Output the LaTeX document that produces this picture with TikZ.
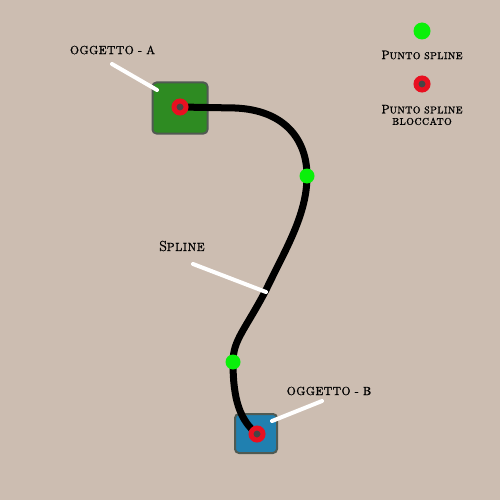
\documentclass[tikz,border=0pt]{standalone}
\usepackage{fontspec}
\newfontfamily\lbl[LetterSpace=5,FakeBold=1.6]{Latin Modern Roman}
\newcommand\bigcapA[1]{{\fontsize{14.5}{14}\selectfont #1}}
\newcommand\bigcapB[1]{{\fontsize{12.2}{12}\selectfont #1}}
\definecolor{bg}{RGB}{204,189,177}
\definecolor{objgreen}{RGB}{46,139,34}
\definecolor{objblue}{RGB}{32,128,176}
\definecolor{objborder}{RGB}{80,90,82}
\definecolor{ptred}{RGB}{232,16,32}
\definecolor{ptgreen}{RGB}{10,240,10}
\definecolor{ptdark}{RGB}{70,70,70}
\begin{document}
\begin{tikzpicture}[x=1pt,y=-1pt,
  obj/.style={draw=objborder,line width=2pt,rounded corners=4pt,inner sep=0pt},
  freept/.style={circle,fill=ptgreen,minimum size=15pt,inner sep=0pt},
  lockpt/.style={circle,fill=ptdark,draw=ptred,line width=5pt,minimum size=12pt,inner sep=0pt},
  txt/.style={font=\lbl\fontsize{11.7}{14}\selectfont,text=black,align=center,inner sep=0pt},
  legtxt/.style={font=\lbl\fontsize{9.8}{12.5}\selectfont,text=black,align=center,inner sep=0pt},
  pointer/.style={white,line width=4pt,line cap=round},
  splinepath/.style={black,line width=7pt}]
\fill[bg] (0,0) rectangle (500,500);
\useasboundingbox (0,0) rectangle (500,500);
% objects
\node[obj,fill=objgreen,minimum width=55pt,minimum height=51pt] (A) at (180,108) {};
\node[obj,fill=objblue,minimum width=42pt,minimum height=39pt] (B) at (256,433.5) {};
% spline
\coordinate (s0) at (180,107);
\coordinate (s1) at (235,108);
\coordinate (p1) at (307,176);
\coordinate (mid) at (266,290);
\coordinate (p2) at (233,362);
\coordinate (s9) at (257,434);
\draw[splinepath] (s0) -- (s1) .. controls (285,110) and (307,140) .. (p1)
  .. controls (307,215) and (285,250) .. (mid)
  .. controls (245,330) and (233,340) .. (p2)
  .. controls (233,400) and (240,420) .. (s9);
\node[lockpt] (LA) at (s0) {};
\node[lockpt] (LB) at (s9) {};
\node[freept] (F1) at (p1) {};
\node[freept] (F2) at (p2) {};
% labels
\node[txt] (tA) at (112.5,50) {OGGETTO - A};
\node[txt] (tS) at (182,246) {\bigcapA{S}PLINE};
\node[txt] (tB) at (329,391) {OGGETTO - B};
\coordinate (a1) at (112,64);
\coordinate (a2) at (157,90);
\coordinate (m1) at (193,264);
\coordinate (m2) at (266,292);
\coordinate (b1) at (322,401);
\coordinate (b2) at (272,421);
\draw[pointer] (a1) -- (a2);
\draw[pointer] (m1) -- (m2);
\draw[pointer] (b1) -- (b2);
% legend
\node[freept,minimum size=17pt] (LG) at (422,31) {};
\node[legtxt] (LGt) at (422,55) {\bigcapB{P}UNTO SPLINE};
\node[lockpt] (LR) at (422,84) {};
\node[legtxt] (LRt) at (422,115) {\bigcapB{P}UNTO SPLINE\\[-1pt]BLOCCATO};
\end{tikzpicture}
\end{document}
